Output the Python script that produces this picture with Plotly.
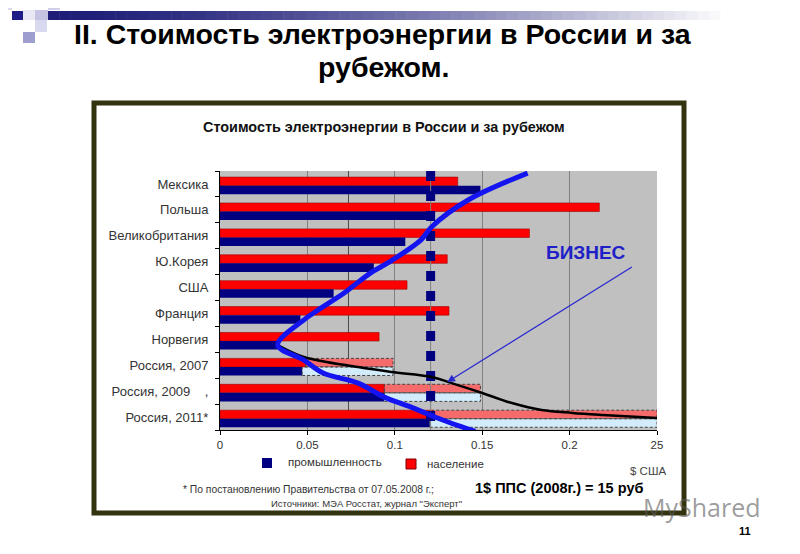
import plotly.graph_objects as go

# ---------------- data ----------------
countries = ["Мексика", "Польша", "Великобритания", "Ю.Корея", "США", "Франция",
             "Норвегия", "Россия, 2007", "Россия, 2009    ,", "Россия, 2011*"]
population = [0.136, 0.217, 0.177, 0.130, 0.107, 0.131, 0.091, 0.049, 0.094, 0.122]   # население
industry = [0.149, 0.120, 0.106, 0.088, 0.065, 0.046, 0.033, 0.047, 0.094, 0.120]     # промышленность
russia_rows = [7, 8, 9]
population_target = [0.099, 0.149, 0.25]
industry_target = [0.099, 0.149, 0.25]
reference_level = 0.1205

business_x = [0.176, 0.142, 0.121, 0.115, 0.096, 0.086, 0.071, 0.056, 0.048, 0.033,
              0.048, 0.059, 0.079, 0.094, 0.109, 0.123, 0.132, 0.146]
business_y = [9.92, 8.88, 7.84, 7.34, 6.45, 6.06, 5.29, 4.63, 4.25, 3.28,
              2.70, 2.20, 1.81, 1.27, 0.89, 0.50, 0.27, -0.05]
trend_x = [0.033, 0.048, 0.079, 0.098, 0.121, 0.1325, 0.150, 0.167, 0.184, 0.2016, 0.219, 0.25]
trend_y = [3.28, 2.82, 2.43, 2.24, 2.05, 1.81, 1.43, 1.04, 0.77, 0.66, 0.58, 0.46]

x_ticks = [0, 0.05, 0.1, 0.15, 0.2, 0.25]
x_ticktext = ["0", "0.05", "0.1", "0.15", "0.2", "25"]

# page body has an 8px margin, so the figure is placed at (8, 8)
OFF = 8
W, H = 800 - OFF, 554 - OFF
def px(x): return (x - OFF) / W
def py(y): return 1 - (y - OFF) / H

n = len(countries)
centers = [n - 0.5 - i for i in range(n)]
red_y = [c + 0.10 for c in centers]
blue_y = [c - 0.23 for c in centers]
BW = 0.33

fig = go.Figure()

# light forecast extensions (behind)
for vals, base, ys, col in [
    (population_target, [population[i] for i in russia_rows], [red_y[i] for i in russia_rows], "#f56a6a"),
    (industry_target, [industry[i] for i in russia_rows], [blue_y[i] for i in russia_rows], "#d2ecfb"),
]:
    fig.add_trace(go.Bar(orientation="h", y=ys, x=[v - b for v, b in zip(vals, base)], base=base,
                         width=BW, marker=dict(color=col, line=dict(width=0)), hoverinfo="skip",
                         showlegend=False))
    for v, b, yy in zip(vals, base, ys):
        fig.add_trace(go.Scatter(x=[b, v, v, b, b],
                                 y=[yy - BW / 2, yy - BW / 2, yy + BW / 2, yy + BW / 2, yy - BW / 2],
                                 mode="lines", line=dict(color="#444444", width=1, dash="3px,2px"),
                                 hoverinfo="skip", showlegend=False))

fig.add_trace(go.Bar(orientation="h", y=red_y, x=population, width=BW, name="население",
                     marker=dict(color="#ff0000", line=dict(color="#9a0000", width=0.6)),
                     showlegend=False))
fig.add_trace(go.Bar(orientation="h", y=blue_y, x=industry, width=BW, name="промышленность",
                     marker=dict(color="#000080", line=dict(width=0)), showlegend=False))

# reference dashed line
fig.add_trace(go.Scatter(x=[reference_level, reference_level], y=[n, 0], mode="lines",
                         line=dict(color="#808080", width=1), hoverinfo="skip", showlegend=False))
fig.add_trace(go.Scatter(x=[reference_level, reference_level], y=[n, 0], mode="lines",
                         line=dict(color="#000080", width=9, dash="10px,10px"),
                         hoverinfo="skip", showlegend=False))

# curves
fig.add_trace(go.Scatter(x=trend_x, y=trend_y, mode="lines", line=dict(color="#000000", width=2.5, shape="spline"),
                         hoverinfo="skip", showlegend=False))
fig.add_trace(go.Scatter(x=business_x, y=business_y, mode="lines",
                         line=dict(color="#1414f0", width=5, shape="spline"),
                         hoverinfo="skip", showlegend=False))

shapes = []
# decorative gradient band
x0, x1, steps = 48, 720, 60
navy = (30, 30, 120)
for k in range(steps):
    t = k / steps
    f = t ** 1.5
    c = tuple(int(navy[j] * (1 - f) + 255 * f) for j in range(3))
    shapes.append(dict(type="rect", xref="paper", yref="paper",
                       x0=px(x0 + (x1 - x0) * t), x1=px(x0 + (x1 - x0) * (k + 1) / steps + 0.5),
                       y0=py(20), y1=py(11), fillcolor="rgb(%d,%d,%d)" % c, line=dict(width=0)))
for (a, b, c, d, col) in [(8, 8, 12, 10, "#dcdcef"), (12, 11, 23, 20, "#1e1e86"), (23, 10, 35, 20, "#e8e8f4"),
                          (48, 8, 60, 10, "#cfcfe8"), (35, 20, 47, 32, "#d8d8ee"), (23, 32, 35, 43, "#9d9dcf"),
                          (35, 10, 48, 20, "#c4c4e2")]:
    shapes.append(dict(type="rect", xref="paper", yref="paper", x0=px(a), x1=px(c), y0=py(d), y1=py(b),
                       fillcolor=col, line=dict(width=0)))
# chart frame
shapes.append(dict(type="rect", xref="paper", yref="paper", x0=px(94), x1=px(684), y0=py(513), y1=py(103),
                   line=dict(color="#33330f", width=5), fillcolor="rgba(0,0,0,0)"))
# extra dark grid line
shapes.append(dict(type="line", xref="x", yref="y", x0=0.0735, x1=0.0735, y0=0, y1=n,
                   line=dict(color="#4a4a4a", width=1), layer="below"))
# legend keys
shapes.append(dict(type="rect", xref="paper", yref="paper", x0=px(262), x1=px(272), y0=py(468), y1=py(458),
                   fillcolor="#000080", line=dict(width=0)))
shapes.append(dict(type="rect", xref="paper", yref="paper", x0=px(406), x1=px(416), y0=py(469), y1=py(459),
                   fillcolor="#ff0000", line=dict(color="#800000", width=1)))

ann = []
def txt(x, y, s, size, color="#000", bold=False, anchor="center", family="Liberation Sans"):
    ann.append(dict(xref="paper", yref="paper", x=px(x), y=py(y), text=("<b>%s</b>" % s) if bold else s,
                    showarrow=False, xanchor=anchor, yanchor="middle",
                    font=dict(size=size, color=color, family=family)))

txt(383, 34, "II. Стоимость электроэнергии в России и за", 28.5, "#000", True)
txt(384, 67, "рубежом.", 28.5, "#000", True)
txt(384, 127, "Стоимость электроэнергии в России и за рубежом", 14.4, "#111", True)
txt(586, 253, "БИЗНЕС", 19, "#2020c8", True)
txt(286, 462, "промышленность", 11.5, "#333", anchor="left")
txt(425, 464, "население", 11.5, "#333", anchor="left")
txt(668, 471, "$ США", 11.5, "#444", anchor="right")
txt(181, 489, "* По постановлению Правительства от 07.05.2008 г.;", 10.3, "#333", anchor="left")
txt(269, 503, "Источники: МЭА Росстат, журнал \"Эксперт\"", 9.5, "#333", anchor="left")
txt(473, 488, "1$ ППС (2008г.) = 15 руб", 14.5, "#000", True, anchor="left")
txt(745, 531, "11", 11, "#000", True)
txt(702, 507, "MyShared", 25, "rgba(90,90,90,0.6)", family="Open Sans")

ann.append(dict(xref="x", yref="y", x=0.130, y=1.85, axref="x", ayref="y", ax=0.2365, ay=6.33,
                text="", showarrow=True, arrowhead=2, arrowsize=1.2, arrowwidth=1.3, arrowcolor="#2a2ad0"))

fig.update_layout(
    width=W, height=H, margin=dict(l=0, r=0, t=0, b=0),
    paper_bgcolor="white", plot_bgcolor="#c0c0c0",
    barmode="overlay", showlegend=False,
    shapes=shapes, annotations=ann,
    xaxis=dict(domain=[px(220), px(657)], range=[0, 0.25], tickvals=x_ticks, ticktext=x_ticktext,
               showgrid=True, gridcolor="#808080", gridwidth=1, zeroline=False,
               showline=True, linecolor="#000", linewidth=1, ticks="outside", ticklen=4, tickcolor="#000",
               tickfont=dict(size=11.5, color="#333", family="Liberation Sans"), automargin=False, fixedrange=True),
    yaxis=dict(domain=[py(430), py(171)], range=[0, n], tickvals=centers, ticktext=countries,
               showgrid=False, zeroline=False, showline=True, linecolor="#000", linewidth=1,
               ticks="outside", ticklen=8, tickcolor="rgba(0,0,0,0)",
               minor=dict(tick0=0, dtick=1, ticks="outside", ticklen=4, tickcolor="#000", showgrid=False),
               tickfont=dict(size=13, color="#333", family="Liberation Sans"), automargin=False, fixedrange=True),
)

fig.write_html("out.html")
